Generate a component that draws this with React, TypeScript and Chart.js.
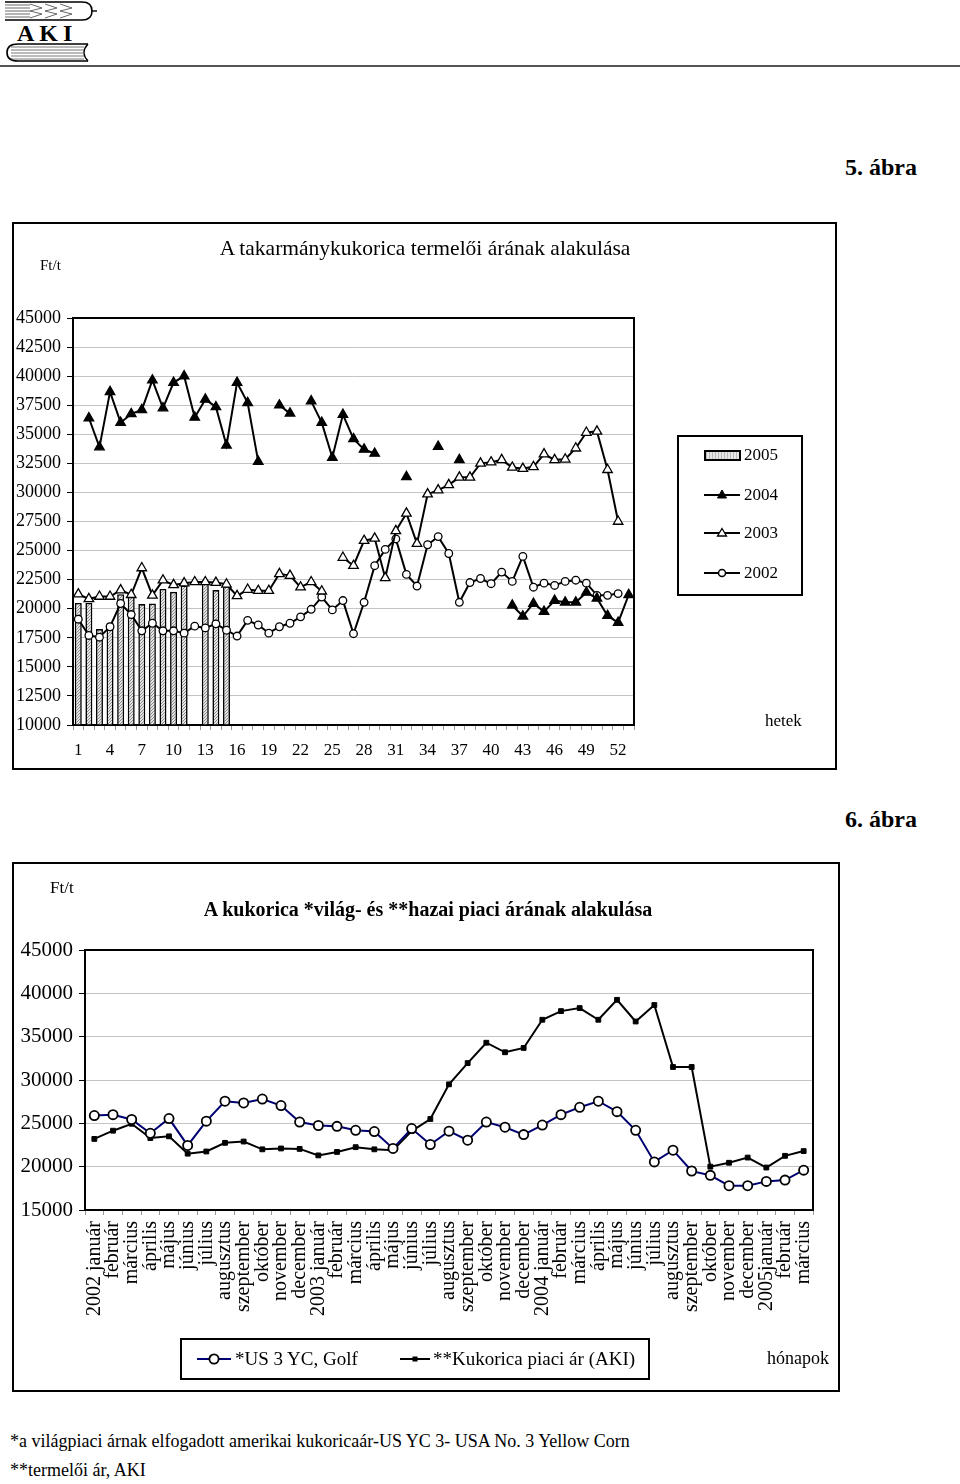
import React, { useEffect, useRef } from 'react';
import { Chart, registerables } from 'chart.js';
Chart.register(...registerables);

const SERIF = "'Liberation Serif', 'Times New Roman', serif";
Chart.defaults.font.family = SERIF;
Chart.defaults.color = '#000';

// ---------- Chart 1 (weekly, Ft/t) ----------
const weekLabels: string[] = Array.from({ length: 53 }, (_, i) => String(i + 1));

const w2005: (number | null)[] = [
  20500, 20500, 18250, 18800, 21250, 21300, 20400, 20450, 21700, 21450, 22000, null, 22450, 21600, 21950,
  null, null, null, null, null, null, null, null, null, null, null, null, null, null, null, null, null, null,
  null, null, null, null, null, null, null, null, null, null, null, null, null, null, null, null, null, null, null, null,
];

const w2004: (number | null)[] = [
  null, 36400, 33900, 38650, 36000, 36750, 37100, 39650, 37250, 39450,
  40000, 36450, 38000, 37350, 34050, 39450, 37700, 32650, null, 37500,
  36800, null, 37850, 36000, 33000, 36700, 34600, 33700, 33350, null,
  null, 31350, null, null, 33950, null, 32800, null, null, null,
  null, 20300, 19350, 20450, 19750, 20700, 20550, 20550, 21400, 20900,
  19400, 18800, 21200,
];

const w2003: (number | null)[] = [
  21250, 20850, 21050, 21050, 21600, 21200, 23500, 21150, 22450, 22050,
  22200, 22300, 22300, 22250, 22100, 21100, 21650, 21550, 21550, 23000,
  22850, 21850, 22300, 21500, null, 24400, 23700, 25850, 26050, 22650,
  26700, 28200, 25600, 29850, 30200, 30650, 31300, 31300, 32500, 32600,
  32800, 32150, 32050, 32200, 33300, 32800, 32850, 33800, 35150, 35250,
  31950, 27500, null,
];

const w2002: (number | null)[] = [
  19100, 17700, 17550, 18450, 20450, 19500, 18100, 18750, 18100, 18100,
  17900, 18500, 18350, 18700, 18150, 17650, 19000, 18600, 17900, 18450,
  18750, 19300, 19950, 21000, 19900, 20700, 17850, 20550, 23700, 25100,
  26000, 22950, 21950, 25500, 26200, 24750, 20550, 22250, 22600, 22150,
  23150, 22350, 24500, 21850, 22200, 22000, 22350, 22450, 22200, 21150,
  21150, 21300, null,
];

// ---------- Chart 2 (monthly) ----------
const monthLabels: string[] = [
  '2002 január', 'február', 'március', 'április', 'május', 'június', 'július', 'augusztus', 'szeptember', 'október', 'november', 'december',
  '2003 január', 'február', 'március', 'április', 'május', 'június', 'július', 'augusztus', 'szeptember', 'október', 'november', 'december',
  '2004 január', 'február', 'március', 'április', 'május', 'június', 'július', 'augusztus', 'szeptember', 'október', 'november', 'december',
  '2005január', 'február', 'március',
];

const usPrice: number[] = [
  25900, 26000, 25450, 23850, 25550, 22450, 25250, 27550, 27350, 27800, 27050, 25150,
  24750, 24650, 24200, 24050, 22100, 24400, 22550, 24100, 23050, 25150, 24550, 23700,
  24800, 26000, 26850, 27550, 26350, 24200, 20550, 21900, 19500, 19000, 17800, 17800,
  18300, 18450, 19600,
];

const akiPrice: number[] = [
  23200, 24150, 24950, 23300, 23500, 21500, 21750, 22750, 22900, 22000, 22100, 22050,
  21300, 21700, 22250, 22000, 21900, 24100, 25500, 29500, 31950, 34300, 33200, 33700,
  36950, 37950, 38300, 36950, 39250, 36750, 38650, 31500, 31500, 20000, 20450, 21050,
  19900, 21250, 21800,
];

const plotFrame = {
  id: 'plotFrame',
  beforeDatasetsDraw(chart: any) {
    const { ctx, chartArea } = chart;
    const { left, top, right, bottom } = chartArea;
    ctx.save();
    ctx.strokeStyle = '#000';
    ctx.lineWidth = 2;
    ctx.strokeRect(left, top, right - left, bottom - top);
    ctx.restore();
  },
};

function makePattern(): CanvasPattern | string {
  const pc = document.createElement('canvas');
  pc.width = 3;
  pc.height = 3;
  const p = pc.getContext('2d');
  if (!p) return '#cccccc';
  p.fillStyle = '#e4e4e4';
  p.fillRect(0, 0, 3, 3);
  p.fillStyle = '#8c8c8c';
  p.fillRect(0, 0, 1, 1);
  p.fillRect(2, 1, 1, 1);
  p.fillRect(1, 2, 1, 1);
  const pat = p.createPattern(pc, 'repeat');
  return pat || '#cccccc';
}

const plainNum = (v: any) => String(v);

function WeeklyChart() {
  const ref = useRef<HTMLCanvasElement | null>(null);
  useEffect(() => {
    if (!ref.current) return;
    const pattern = makePattern();
    const lineCommon = {
      type: 'line' as const,
      borderColor: '#000',
      borderWidth: 2,
      pointBorderColor: '#000',
      pointBorderWidth: 1.3,
      spanGaps: false,
      tension: 0,
    };
    const chart = new Chart(ref.current, {
      type: 'bar',
      data: {
        labels: weekLabels,
        datasets: [
          { ...lineCommon, label: '2004', data: w2004, pointStyle: 'triangle', pointRadius: 5.5, pointBackgroundColor: '#000', order: 1 } as any,
          { ...lineCommon, label: '2003', data: w2003, pointStyle: 'triangle', pointRadius: 5.5, pointBackgroundColor: '#fff', order: 2 } as any,
          { ...lineCommon, label: '2002', data: w2002, pointStyle: 'circle', pointRadius: 3.8, pointBackgroundColor: '#fff', order: 3 } as any,
          {
            type: 'bar', label: '2005', data: w2005, backgroundColor: pattern, borderColor: '#000', borderWidth: 1.6,
            barPercentage: 0.66, categoryPercentage: 1, base: 10000, order: 10,
          } as any,
        ],
      },
      options: {
        animation: false,
        responsive: false,
        maintainAspectRatio: false,
        layout: { padding: { top: 96, right: 201, left: 0, bottom: 0 } },
        plugins: { legend: { display: false }, tooltip: { enabled: false } },
        scales: {
          x: {
            offset: true,
            grid: { offset: true, drawOnChartArea: false, tickLength: 5, tickColor: '#999' },
            border: { display: false },
            ticks: {
              autoSkip: false, maxRotation: 0, minRotation: 0, padding: 10, font: { size: 17 }, color: '#000',
              callback: (_v: any, i: number) => (i % 3 === 0 ? weekLabels[i] : ''),
            },
            afterFit: (s: any) => { s.height = 43; },
          },
          y: {
            min: 10000, max: 45000,
            ticks: { stepSize: 2500, font: { size: 18 }, color: '#000', padding: 6, callback: plainNum },
            grid: { color: '#c4c4c4', tickColor: '#000', tickLength: 6 },
            border: { display: false },
            afterFit: (s: any) => { s.width = 61; },
          },
        },
      } as any,
      plugins: [plotFrame],
    });
    return () => chart.destroy();
  }, []);
  return <canvas ref={ref} width={823} height={546} style={{ position: 'absolute', left: 12, top: 222 }} />;
}

function MonthlyChart() {
  const ref = useRef<HTMLCanvasElement | null>(null);
  useEffect(() => {
    if (!ref.current) return;
    const chart = new Chart(ref.current, {
      type: 'line',
      data: {
        labels: monthLabels,
        datasets: [
          {
            label: '*US 3 YC, Golf', data: usPrice, borderColor: '#000070', borderWidth: 2, pointStyle: 'circle',
            pointRadius: 4.6, pointBackgroundColor: '#fff', pointBorderColor: '#000', pointBorderWidth: 1.8, tension: 0, order: 1,
          },
          {
            label: '**Kukorica piaci ár (AKI)', data: akiPrice, borderColor: '#000', borderWidth: 2, pointStyle: 'rect',
            pointRadius: 3.4, pointBackgroundColor: '#000', pointBorderColor: '#000', pointBorderWidth: 1, tension: 0, order: 2,
          },
        ],
      },
      options: {
        animation: false,
        responsive: false,
        maintainAspectRatio: false,
        layout: { padding: { top: 88, right: 25, left: 0, bottom: 60 } },
        plugins: { legend: { display: false }, tooltip: { enabled: false } },
        scales: {
          x: {
            offset: true,
            grid: { offset: true, drawOnChartArea: false, tickLength: 5, tickColor: '#999' },
            border: { display: false },
            ticks: { autoSkip: false, maxRotation: 90, minRotation: 90, padding: 6, font: { size: 20 }, color: '#000' },
            afterFit: (s: any) => { s.height = 120; },
          },
          y: {
            min: 15000, max: 45000,
            ticks: { stepSize: 5000, font: { size: 21 }, color: '#000', padding: 6, callback: plainNum },
            grid: { color: '#c4c4c4', tickColor: '#000', tickLength: 6 },
            border: { display: false },
            afterFit: (s: any) => { s.width = 73; },
          },
        },
      } as any,
      plugins: [plotFrame],
    });
    return () => chart.destroy();
  }, []);
  return <canvas ref={ref} width={826} height={528} style={{ position: 'absolute', left: 12, top: 862 }} />;
}

const T = (props: { x: number; y: number; size: number; bold?: boolean; align?: 'left' | 'center' | 'right'; children: React.ReactNode }) => {
  const { x, y, size, bold, align = 'left', children } = props;
  const style: React.CSSProperties = {
    position: 'absolute', top: y - size * 0.58, fontFamily: SERIF, fontSize: size, lineHeight: 1.15,
    fontWeight: bold ? 700 : 400, whiteSpace: 'nowrap', color: '#000',
  };
  if (align === 'left') style.left = x;
  else if (align === 'right') style.right = 960 - x;
  else { style.left = x; style.transform = 'translateX(-50%)'; }
  return <div style={style}>{children}</div>;
};

function Logo() {
  return (
    <>
      <svg width={110} height={64} style={{ position: 'absolute', left: 0, top: 0 }}>
        <path d="M5,2 H82 Q92,2 92,11 Q92,20 82,20 H5" fill="none" stroke="#000" strokeWidth={1.6} />
        {[5, 8, 11, 14, 17].map((y) => (
          <line key={y} x1={5} y1={y} x2={30} y2={y} stroke="#444" strokeWidth={0.8} />
        ))}
        {[30, 45, 60].map((x) => (
          <path key={x} d={`M${x},4 L${x + 12},8 L${x},11 L${x + 12},14 L${x},18`} fill="none" stroke="#444" strokeWidth={0.8} />
        ))}
        <line x1={92} y1={11} x2={97} y2={11} stroke="#000" strokeWidth={1.4} />
        <path d="M88,44 L18,44 Q7,44 7,52.5 Q7,61 18,61 L88,61" fill="none" stroke="#000" strokeWidth={1.6} />
        <path d="M88,44 Q80,52.5 88,61" fill="none" stroke="#000" strokeWidth={1.4} />
        {[47, 50, 53, 56, 59].map((y) => (
          <line key={y} x1={11} y1={y} x2={84} y2={y} stroke="#555" strokeWidth={0.8} />
        ))}
      </svg>
      <div style={{ position: 'absolute', left: 17, top: 21, fontFamily: SERIF, fontSize: 24, fontWeight: 700, letterSpacing: 5, lineHeight: 1 }}>AKI</div>
      <div style={{ position: 'absolute', left: 0, top: 65, width: 960, height: 2, background: '#555' }} />
    </>
  );
}

const LineIcon = (props: { marker: 'tri-fill' | 'tri-open' | 'circle' | 'circle-big' | 'square'; w?: number; color?: string }) => {
  const { marker, w = 36, color = '#000' } = props;
  const c = w / 2;
  return (
    <svg width={w} height={14} style={{ display: 'block' }}>
      <line x1={0} y1={7} x2={w} y2={7} stroke={color} strokeWidth={2} />
      {marker === 'tri-fill' && <polygon points={`${c},2 ${c + 4.5},10 ${c - 4.5},10`} fill="#000" stroke="#000" strokeWidth={1} />}
      {marker === 'tri-open' && <polygon points={`${c},2.5 ${c + 4.5},10 ${c - 4.5},10`} fill="#fff" stroke="#000" strokeWidth={1.3} />}
      {marker === 'circle' && <circle cx={c} cy={7} r={3.5} fill="#fff" stroke="#000" strokeWidth={1.5} />}
      {marker === 'circle-big' && <circle cx={c} cy={7} r={4.6} fill="#fff" stroke="#000" strokeWidth={1.8} />}
      {marker === 'square' && <rect x={c - 2.5} y={4.5} width={5} height={5} fill="#000" />}
    </svg>
  );
};

function Legend1() {
  const items: { label: string; icon: React.ReactNode; y: number }[] = [
    {
      label: '2005', y: 455,
      icon: <div style={{ width: 33, height: 7, border: '2px solid #000', background: 'repeating-linear-gradient(90deg, #bbb 0 1px, #e6e6e6 1px 3px)' }} />,
    },
    { label: '2004', y: 495, icon: <LineIcon marker="tri-fill" /> },
    { label: '2003', y: 533, icon: <LineIcon marker="tri-open" /> },
    { label: '2002', y: 573, icon: <LineIcon marker="circle" /> },
  ];
  return (
    <>
      <div style={{ position: 'absolute', left: 677, top: 435, width: 122, height: 157, border: '2px solid #000' }} />
      {items.map((it) => (
        <div key={it.label} style={{ position: 'absolute', left: 704, top: it.y - 10, height: 20, display: 'flex', alignItems: 'center' }}>
          <div style={{ width: 38, display: 'flex', alignItems: 'center' }}>{it.icon}</div>
          <span style={{ fontFamily: SERIF, fontSize: 17, marginLeft: 2 }}>{it.label}</span>
        </div>
      ))}
    </>
  );
}

function Legend2() {
  return (
    <>
      <div style={{ position: 'absolute', left: 180, top: 1338, width: 466, height: 38, border: '2px solid #000' }} />
      <div style={{ position: 'absolute', left: 197, top: 1348, height: 22, display: 'flex', alignItems: 'center' }}>
        <LineIcon marker="circle-big" w={34} color="#000070" />
        <span style={{ fontFamily: SERIF, fontSize: 19, marginLeft: 4 }}>*US 3 YC, Golf</span>
      </div>
      <div style={{ position: 'absolute', left: 400, top: 1348, height: 22, display: 'flex', alignItems: 'center' }}>
        <LineIcon marker="square" w={30} />
        <span style={{ fontFamily: SERIF, fontSize: 19, marginLeft: 3 }}>**Kukorica piaci ár (AKI)</span>
      </div>
    </>
  );
}

export default function App() {
  return (
    <div style={{ position: 'absolute', left: 0, top: 0, width: 960, height: 1484, background: '#fff', overflow: 'hidden' }}>
      <Logo />
      <T x={917} y={168} size={24} bold align="right">5. ábra</T>

      <div style={{ position: 'absolute', left: 12, top: 222, width: 821, height: 544, border: '2px solid #000' }} />
      <WeeklyChart />
      <T x={40} y={266} size={15}>Ft/t</T>
      <T x={425} y={248} size={21.5} align="center">A takarmánykukorica termelői árának alakulása</T>
      <Legend1 />
      <T x={765} y={721} size={17}>hetek</T>

      <T x={917} y={820} size={24} bold align="right">6. ábra</T>

      <div style={{ position: 'absolute', left: 12, top: 862, width: 824, height: 526, border: '2px solid #000' }} />
      <MonthlyChart />
      <T x={50} y={888} size={17}>Ft/t</T>
      <T x={428} y={910} size={20} bold align="center">A kukorica *világ- és **hazai piaci árának alakulása</T>
      <Legend2 />
      <T x={767} y={1358} size={18}>hónapok</T>

      <T x={10} y={1441} size={18}>*a világpiaci árnak elfogadott amerikai kukoricaár-US YC 3- USA No. 3 Yellow Corn</T>
      <T x={10} y={1470} size={18}>**termelői ár, AKI</T>
    </div>
  );
}
